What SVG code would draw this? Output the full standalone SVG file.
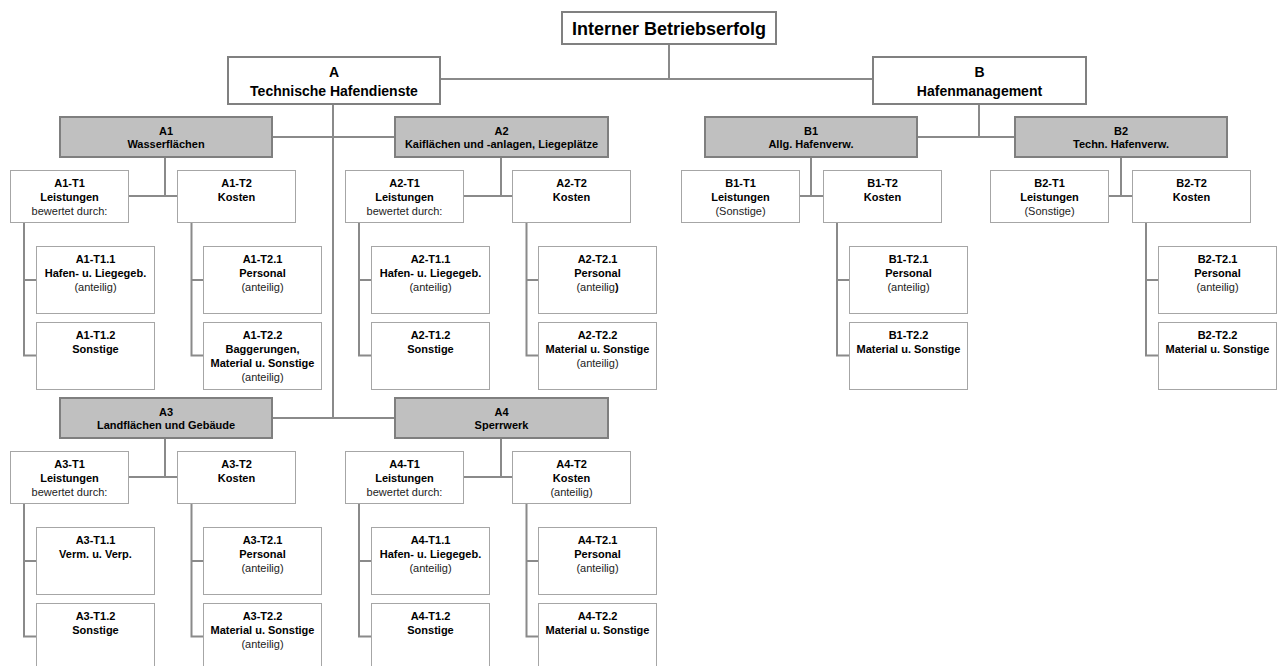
<svg xmlns="http://www.w3.org/2000/svg" width="1279" height="666" viewBox="0 0 1279 666">
<style>
text{font-family:"Liberation Sans",Arial,sans-serif;text-anchor:middle;fill:#000}
.b{font-weight:bold;font-size:11px}
.n{font-weight:normal;font-size:11px;fill:#222}
.t0{font-weight:bold;font-size:18px}
.t1{font-weight:bold;font-size:14px}
.top{fill:#fff;stroke:#808080;stroke-width:2}
.grey{fill:#c0c0c0;stroke:#7f7f7f;stroke-width:2}
.box{fill:#fff;stroke:#a6a6a6;stroke-width:1}
.con{fill:none;stroke:#8a8a8a;stroke-width:2}
</style>
<rect width="1279" height="666" fill="#fff"/>
<g id="connectors" class="con">
<path d="M669 44V79M440 79H873M333 104V418M272 137H395M272 418H395M979 104V137M917 137H1015"/>
<path d="M165 157V196M128 196H177M24 222V355.5H36M24 280H36M191.5 222V355.5H203M191.5 280H203"/>
<path d="M501 157V196M463 196H512M359 222V355.5H371M359 280H371M526.5 222V355.5H538M526.5 280H538"/>
<path d="M811 157V196M799 196H823M837 222V355.5H849M837 280H849"/>
<path d="M1121 157V196M1108 196H1132M1146 222V355.5H1158M1146 280H1158"/>
<path d="M165 438V477M128 477H177M24 503V636.5H36M24 561H36M191.5 503V636.5H203M191.5 561H203"/>
<path d="M501 438V477M463 477H512M359 503V636.5H371M359 561H371M526.5 503V636.5H538M526.5 561H538"/>
</g>
<g id="root"><rect class="top" x="562" y="12" width="214" height="32"/><text class="t0" x="669" y="34.5">Interner Betriebserfolg</text></g>
<g id="A"><rect class="top" x="228" y="57" width="212" height="47"/><text class="t1" x="334" y="76.5">A</text><text class="t1" x="334" y="95.5">Technische Hafendienste</text></g>
<g id="B"><rect class="top" x="873" y="57" width="213" height="47"/><text class="t1" x="979.5" y="76.5">B</text><text class="t1" x="979.5" y="95.5">Hafenmanagement</text></g>
<g id="A1"><rect class="grey" x="60" y="117" width="212" height="40"/><text class="b" x="166" y="134.5">A1</text><text class="b" x="166" y="148">Wasserflächen</text></g>
<g id="A2"><rect class="grey" x="395" y="117" width="213" height="40"/><text class="b" x="501.5" y="134.5">A2</text><text class="b" x="501.5" y="148">Kaiflächen und -anlagen, Liegeplätze</text></g>
<g id="B1"><rect class="grey" x="705" y="117" width="212" height="40"/><text class="b" x="811" y="134.5">B1</text><text class="b" x="811" y="148">Allg. Hafenverw.</text></g>
<g id="B2"><rect class="grey" x="1015" y="117" width="212" height="40"/><text class="b" x="1121" y="134.5">B2</text><text class="b" x="1121" y="148">Techn. Hafenverw.</text></g>
<g id="A3"><rect class="grey" x="60" y="398" width="212" height="40"/><text class="b" x="166" y="415.5">A3</text><text class="b" x="166" y="429">Landflächen und Gebäude</text></g>
<g id="A4"><rect class="grey" x="395" y="398" width="213" height="40"/><text class="b" x="501.5" y="415.5">A4</text><text class="b" x="501.5" y="429">Sperrwerk</text></g>

<g id="A1-T1"><rect class="box" x="10.5" y="170.5" width="118" height="52"/><text class="b" x="69.5" y="186.5">A1-T1</text><text class="b" x="69.5" y="201">Leistungen</text><text class="n" x="69.5" y="215">bewertet durch:</text></g>
<g id="A1-T2"><rect class="box" x="177.5" y="170.5" width="118" height="52"/><text class="b" x="236.5" y="186.5">A1-T2</text><text class="b" x="236.5" y="201">Kosten</text></g>
<g id="A1-T1.1"><rect class="box" x="36.5" y="246.5" width="118" height="67"/><text class="b" x="95.5" y="263">A1-T1.1</text><text class="b" x="95.5" y="277">Hafen- u. Liegegeb.</text><text class="n" x="95.5" y="291">(anteilig)</text></g>
<g id="A1-T1.2"><rect class="box" x="36.5" y="322.5" width="118" height="67"/><text class="b" x="95.5" y="339">A1-T1.2</text><text class="b" x="95.5" y="353">Sonstige</text></g>
<g id="A1-T2.1"><rect class="box" x="203.5" y="246.5" width="118" height="67"/><text class="b" x="262.5" y="263">A1-T2.1</text><text class="b" x="262.5" y="277">Personal</text><text class="n" x="262.5" y="291">(anteilig)</text></g>
<g id="A1-T2.2"><rect class="box" x="203.5" y="322.5" width="118" height="67"/><text class="b" x="262.5" y="339">A1-T2.2</text><text class="b" x="262.5" y="353">Baggerungen,</text><text class="b" x="262.5" y="367">Material u. Sonstige</text><text class="n" x="262.5" y="381">(anteilig)</text></g>

<g id="A2-T1"><rect class="box" x="345.5" y="170.5" width="118" height="52"/><text class="b" x="404.5" y="186.5">A2-T1</text><text class="b" x="404.5" y="201">Leistungen</text><text class="n" x="404.5" y="215">bewertet durch:</text></g>
<g id="A2-T2"><rect class="box" x="512.5" y="170.5" width="118" height="52"/><text class="b" x="571.5" y="186.5">A2-T2</text><text class="b" x="571.5" y="201">Kosten</text></g>
<g id="A2-T1.1"><rect class="box" x="371.5" y="246.5" width="118" height="67"/><text class="b" x="430.5" y="263">A2-T1.1</text><text class="b" x="430.5" y="277">Hafen- u. Liegegeb.</text><text class="n" x="430.5" y="291">(anteilig)</text></g>
<g id="A2-T1.2"><rect class="box" x="371.5" y="322.5" width="118" height="67"/><text class="b" x="430.5" y="339">A2-T1.2</text><text class="b" x="430.5" y="353">Sonstige</text></g>
<g id="A2-T2.1"><rect class="box" x="538.5" y="246.5" width="118" height="67"/><text class="b" x="597.5" y="263">A2-T2.1</text><text class="b" x="597.5" y="277">Personal</text><text class="n" x="597.5" y="291">(anteilig<tspan font-weight="bold" fill="#000">)</tspan></text></g>
<g id="A2-T2.2"><rect class="box" x="538.5" y="322.5" width="118" height="67"/><text class="b" x="597.5" y="339">A2-T2.2</text><text class="b" x="597.5" y="353">Material u. Sonstige</text><text class="n" x="597.5" y="367">(anteilig)</text></g>

<g id="B1-T1"><rect class="box" x="681.5" y="170.5" width="118" height="52"/><text class="b" x="740.5" y="186.5">B1-T1</text><text class="b" x="740.5" y="201">Leistungen</text><text class="n" x="740.5" y="215">(Sonstige)</text></g>
<g id="B1-T2"><rect class="box" x="823.5" y="170.5" width="118" height="52"/><text class="b" x="882.5" y="186.5">B1-T2</text><text class="b" x="882.5" y="201">Kosten</text></g>
<g id="B1-T2.1"><rect class="box" x="849.5" y="246.5" width="118" height="67"/><text class="b" x="908.5" y="263">B1-T2.1</text><text class="b" x="908.5" y="277">Personal</text><text class="n" x="908.5" y="291">(anteilig)</text></g>
<g id="B1-T2.2"><rect class="box" x="849.5" y="322.5" width="118" height="67"/><text class="b" x="908.5" y="339">B1-T2.2</text><text class="b" x="908.5" y="353">Material u. Sonstige</text></g>

<g id="B2-T1"><rect class="box" x="990.5" y="170.5" width="118" height="52"/><text class="b" x="1049.5" y="186.5">B2-T1</text><text class="b" x="1049.5" y="201">Leistungen</text><text class="n" x="1049.5" y="215">(Sonstige)</text></g>
<g id="B2-T2"><rect class="box" x="1132.5" y="170.5" width="118" height="52"/><text class="b" x="1191.5" y="186.5">B2-T2</text><text class="b" x="1191.5" y="201">Kosten</text></g>
<g id="B2-T2.1"><rect class="box" x="1158.5" y="246.5" width="118" height="67"/><text class="b" x="1217.5" y="263">B2-T2.1</text><text class="b" x="1217.5" y="277">Personal</text><text class="n" x="1217.5" y="291">(anteilig)</text></g>
<g id="B2-T2.2"><rect class="box" x="1158.5" y="322.5" width="118" height="67"/><text class="b" x="1217.5" y="339">B2-T2.2</text><text class="b" x="1217.5" y="353">Material u. Sonstige</text></g>

<g id="A3-T1"><rect class="box" x="10.5" y="451.5" width="118" height="52"/><text class="b" x="69.5" y="467.5">A3-T1</text><text class="b" x="69.5" y="482">Leistungen</text><text class="n" x="69.5" y="496">bewertet durch:</text></g>
<g id="A3-T2"><rect class="box" x="177.5" y="451.5" width="118" height="52"/><text class="b" x="236.5" y="467.5">A3-T2</text><text class="b" x="236.5" y="482">Kosten</text></g>
<g id="A3-T1.1"><rect class="box" x="36.5" y="527.5" width="118" height="67"/><text class="b" x="95.5" y="544">A3-T1.1</text><text class="b" x="95.5" y="558">Verm. u. Verp.</text></g>
<g id="A3-T1.2"><rect class="box" x="36.5" y="603.5" width="118" height="67"/><text class="b" x="95.5" y="620">A3-T1.2</text><text class="b" x="95.5" y="634">Sonstige</text></g>
<g id="A3-T2.1"><rect class="box" x="203.5" y="527.5" width="118" height="67"/><text class="b" x="262.5" y="544">A3-T2.1</text><text class="b" x="262.5" y="558">Personal</text><text class="n" x="262.5" y="572">(anteilig)</text></g>
<g id="A3-T2.2"><rect class="box" x="203.5" y="603.5" width="118" height="67"/><text class="b" x="262.5" y="620">A3-T2.2</text><text class="b" x="262.5" y="634">Material u. Sonstige</text><text class="n" x="262.5" y="648">(anteilig)</text></g>

<g id="A4-T1"><rect class="box" x="345.5" y="451.5" width="118" height="52"/><text class="b" x="404.5" y="467.5">A4-T1</text><text class="b" x="404.5" y="482">Leistungen</text><text class="n" x="404.5" y="496">bewertet durch:</text></g>
<g id="A4-T2"><rect class="box" x="512.5" y="451.5" width="118" height="52"/><text class="b" x="571.5" y="467.5">A4-T2</text><text class="b" x="571.5" y="482">Kosten</text><text class="n" x="571.5" y="496">(anteilig)</text></g>
<g id="A4-T1.1"><rect class="box" x="371.5" y="527.5" width="118" height="67"/><text class="b" x="430.5" y="544">A4-T1.1</text><text class="b" x="430.5" y="558">Hafen- u. Liegegeb.</text><text class="n" x="430.5" y="572">(anteilig)</text></g>
<g id="A4-T1.2"><rect class="box" x="371.5" y="603.5" width="118" height="67"/><text class="b" x="430.5" y="620">A4-T1.2</text><text class="b" x="430.5" y="634">Sonstige</text></g>
<g id="A4-T2.1"><rect class="box" x="538.5" y="527.5" width="118" height="67"/><text class="b" x="597.5" y="544">A4-T2.1</text><text class="b" x="597.5" y="558">Personal</text><text class="n" x="597.5" y="572">(anteilig)</text></g>
<g id="A4-T2.2"><rect class="box" x="538.5" y="603.5" width="118" height="67"/><text class="b" x="597.5" y="620">A4-T2.2</text><text class="b" x="597.5" y="634">Material u. Sonstige</text></g>
</svg>
